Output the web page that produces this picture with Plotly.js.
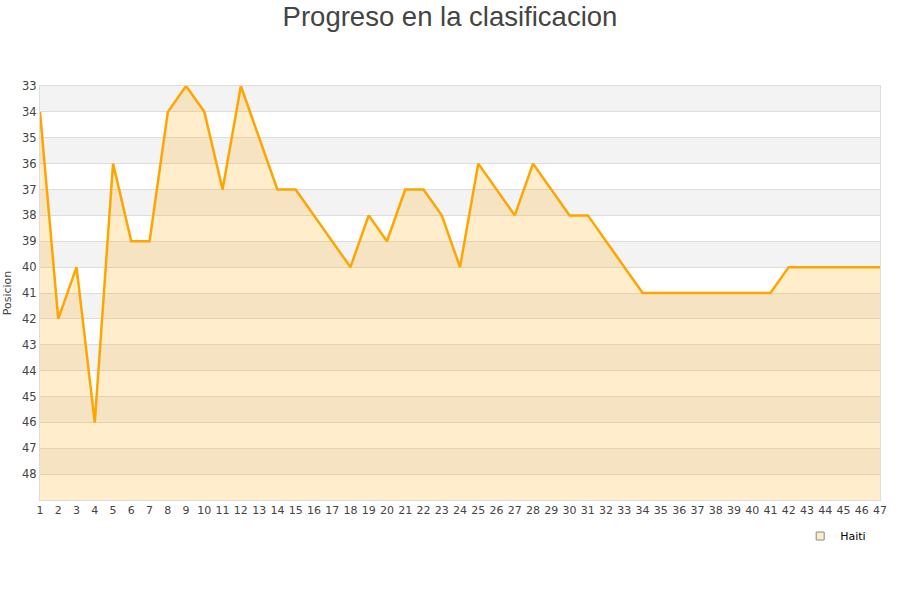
<!DOCTYPE html>
<html>
<head>
<meta charset="utf-8">
<script src="https://cdn.plot.ly/plotly-3.0.1.min.js"></script>
<style>html,body{margin:0;padding:0;background:#fff;}#chart{width:900px;height:600px;}</style>
</head>
<body>
<div id="chart"></div>
<script>
var jornadas = [1,2,3,4,5,6,7,8,9,10,11,12,13,14,15,16,17,18,19,20,21,22,23,24,25,26,27,28,29,30,31,32,33,34,35,36,37,38,39,40,41,42,43,44,45,46,47];
var posicion = [34,42,40,46,36,39,39,34,33,34,37,33,35,37,37,38,39,40,38,39,37,37,38,40,36,37,38,36,37,38,38,39,40,41,41,41,41,41,41,41,41,40,40,40,40,40,40];
var equipo = "Haiti";
var yTicks = [33,34,35,36,37,38,39,40,41,42,43,44,45,46,47,48];

var shapes = [];
for (var i = 33; i < 49; i += 2) {
  shapes.push({type:'rect', xref:'paper', yref:'y', x0:0, x1:1, y0:i, y1:i+1,
    fillcolor:'#f3f3f3', line:{width:0}, layer:'below'});
}

var baseline = jornadas.map(function(){return 49;});

var traces = [
  {x: jornadas, y: baseline, mode:'lines', line:{width:0, color:'rgba(0,0,0,0)'}, hoverinfo:'skip', showlegend:false},
  {x: jornadas, y: posicion, mode:'lines', fill:'tonexty', fillcolor:'rgba(255,165,0,0.2)',
   line:{color:'#ffa500', width:2.5}, name: equipo, showlegend:false},
  {x:[null], y:[null], mode:'markers', name: equipo,
   marker:{symbol:'square', size:8, color:'#feecc9', line:{color:'#888', width:1}}}
];

var layout = {
  width:900, height:600,
  margin:{l:40, r:20, t:86, b:100, autoexpand:false},
  paper_bgcolor:'#fff', plot_bgcolor:'#fff',
  font:{family:'DejaVu Sans, sans-serif', color:'#444'},
  title:{text:'Progreso en la clasificacion', font:{family:'Liberation Sans, Arial, sans-serif', size:27.5, color:'#444'}, x:0.5, xanchor:'center', y:0.988, yanchor:'top'},
  xaxis:{range:[1,47], tickvals:jornadas, ticktext:jornadas.map(String), showgrid:false, zeroline:false,
    showline:true, linecolor:'#ddd', mirror:true, ticks:'', tickfont:{size:11, color:'#444'}, ticklen:0},
  yaxis:{range:[49,33], tickvals:yTicks, ticktext:yTicks.map(String), showgrid:true, gridcolor:'#ddd', zeroline:false,
    showline:true, linecolor:'#ddd', mirror:true, ticks:'', tickfont:{size:11.5, color:'#444'},
    title:{text:'Posicion', font:{size:11, color:'#444'}, standoff:8}},
  shapes: shapes,
  showlegend:true,
  legend:{x:0.905, y:-0.052, xanchor:'left', yanchor:'top', font:{size:11, color:'#000'}, bgcolor:'rgba(0,0,0,0)'}
};

Plotly.newPlot('chart', traces, layout, {displayModeBar:false, staticPlot:true});
</script>
</body>
</html>
